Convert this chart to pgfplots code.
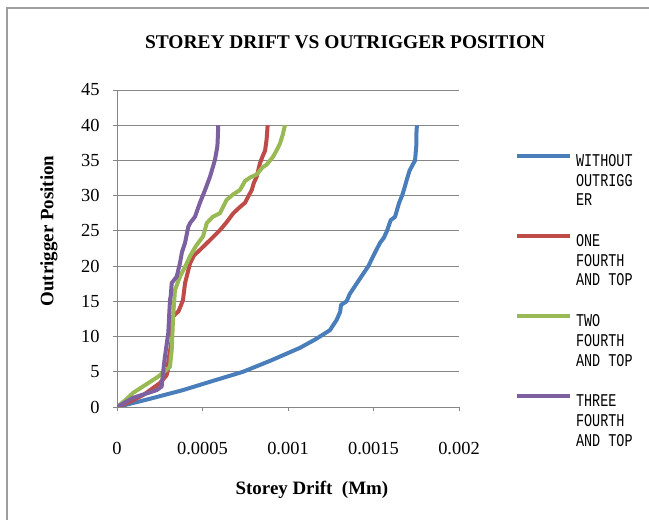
\documentclass[border=0pt]{standalone}
\usepackage{fontspec}
\setmainfont{Liberation Serif}
\newfontfamily\legfont[FakeStretch=0.75]{Liberation Mono}
\usepackage{pgfplots}
\pgfplotsset{compat=1.18}
\definecolor{sBlue}{RGB}{74,126,187}
\definecolor{sRed}{RGB}{190,75,72}
\definecolor{sGreen}{RGB}{152,185,84}
\definecolor{sPurple}{RGB}{125,96,160}
\definecolor{gridgray}{RGB}{134,134,134}
\newcommand\legtab[1]{\begin{tabular}[t]{@{}l@{}}#1\end{tabular}}
\begin{document}
\begin{tikzpicture}
\path[use as bounding box] (0,0) rectangle (649bp,520bp);
\draw[gray!75, line width=1.5bp] (7bp,0) -- (7bp,512bp) -- (649bp,512bp);
\begin{axis}[
  at={(117bp,113bp)}, anchor=south west,
  scale only axis, width=342bp, height=317bp,
  xmin=0, xmax=0.002, ymin=0, ymax=45,
  axis x line*=bottom, axis y line*=left,
  axis line style={gridgray, line width=0.8bp},
  xtick={0,0.0005,0.001,0.0015,0.002},
  xticklabels={0,0.0005,0.001,0.0015,0.002},
  scaled x ticks=false,
  ytick={0,5,...,45},
  ymajorgrids, grid style={gridgray, line width=0.8bp},
  tick style={gridgray, line width=0.8bp},
  tick align=outside, major tick length=4bp,
  /pgf/number format/assume math mode=true,
  ticklabel style={font=\fontsize{18.5}{22}\selectfont},
  xticklabel style={yshift=-28bp},
  yticklabel style={xshift=-10bp},
  title={\textbf{STOREY DRIFT VS OUTRIGGER POSITION}},
  title style={at={(0.667,1)}, anchor=base, yshift=36bp, font=\fontsize{19.5}{22}\selectfont},
  xlabel={\textbf{Storey Drift\ \ (Mm)}},
  xlabel style={at={(0.57,0)}, anchor=base, yshift=-87bp, font=\fontsize{19}{22}\selectfont},
  ylabel={\textbf{Outrigger Position}},
  ylabel style={at={(0,0.555)}, anchor=center, yshift=68bp, font=\fontsize{19}{22}\selectfont},
  legend style={draw=none, fill=none, at={(1.164,0.804)}, anchor=north west,
    inner sep=0pt, outer sep=0pt, row sep=64.6bp,
    font=\legfont\fontsize{18}{20}\selectfont,
    nodes={inner sep=0pt},
    /tikz/every odd column/.append style={column sep=4bp}},
  legend cell align=left,
  legend image code/.code={\draw[#1] (0bp,0.35em) -- (53bp,0.35em);},
  every axis plot/.append style={line width=4bp, line join=round},
]
\addplot[sBlue] coordinates {
(0,0) (0.00019,1.15) (0.000386,2.4) (0.00056,3.7) (0.000737,5.0) (0.0009,6.6)
(0.00107,8.4) (0.00116,9.6) (0.001245,10.9) (0.001284,12.35) (0.001305,13.5)
(0.00131,14.5) (0.001343,15) (0.00136,16) (0.00139,17.1) (0.00142,18.2)
(0.00147,20) (0.0015,21.5) (0.001538,23.3) (0.00156,24) (0.001579,25)
(0.0016,26.5) (0.001626,27) (0.00165,29) (0.001667,30) (0.00168,31)
(0.001694,32.2) (0.00171,33.5) (0.001725,34.2) (0.001743,35) (0.00175,37)
(0.00175,38.5) (0.001754,40)
};
\addlegendentry{\legtab{WITHOUT\\OUTRIGG\\ER}}
\addplot[sRed] coordinates {
(0,0) (0.00008,0.8) (0.00016,1.8) (0.000251,3.4) (0.00029,4.5) (0.000298,5.3)
(0.0003,6.5) (0.00032,9.5) (0.000325,12.8) (0.00036,13.6) (0.000375,14.5)
(0.000386,15.2) (0.000398,17.6) (0.000427,20.4) (0.00045,21.5) (0.000485,22.3)
(0.00054,23.6) (0.000602,25.1) (0.00064,26.2) (0.00068,27.5) (0.000715,28.3)
(0.000749,29) (0.00077,30) (0.000788,30.8) (0.0008,31.8) (0.000817,32.7)
(0.000836,34.6) (0.00085,35.5) (0.000866,36.4) (0.000875,38) (0.000881,40)
};
\addlegendentry{\legtab{ONE\\FOURTH\\AND TOP}}
\addplot[sGreen] coordinates {
(0,0) (0.00005,1) (0.0000936,2) (0.00017,3.2) (0.00024,4.3) (0.00031,5.7)
(0.000315,7) (0.00032,8.1) (0.000325,11) (0.00033,13.5) (0.000339,16.6)
(0.000368,18.5) (0.0004,20) (0.000427,21.4) (0.00046,22.8) (0.000503,24.2)
(0.000525,26.1) (0.00056,27) (0.000602,27.5) (0.000641,29.4) (0.00068,30.2)
(0.000719,30.8) (0.000749,32.1) (0.00078,32.6) (0.000817,33) (0.00085,34)
(0.000875,34.4) (0.000912,35.5) (0.000935,36.5) (0.000953,37.4) (0.00097,38.7)
(0.000982,40)
};
\addlegendentry{\legtab{TWO\\FOURTH\\AND TOP}}
\addplot[sPurple] coordinates {
(0,0) (0.0000936,1.3) (0.00017,1.9) (0.000232,2.4) (0.000261,2.9) (0.00027,5)
(0.00028,7.1) (0.0003,10.5) (0.000305,13) (0.00031,15.2) (0.000314,15.7)
(0.00032,17.6) (0.000349,18.5) (0.000368,20.4) (0.00038,22) (0.000398,23.3)
(0.000417,25.6) (0.00043,26.2) (0.000456,27) (0.000485,29) (0.000515,30.8)
(0.000544,32.7) (0.00056,34) (0.000573,35.1) (0.000587,37) (0.00059,38.5)
(0.000592,40)
};
\addlegendentry{\legtab{THREE\\FOURTH\\AND TOP}}
\end{axis}
\end{tikzpicture}
\end{document}
